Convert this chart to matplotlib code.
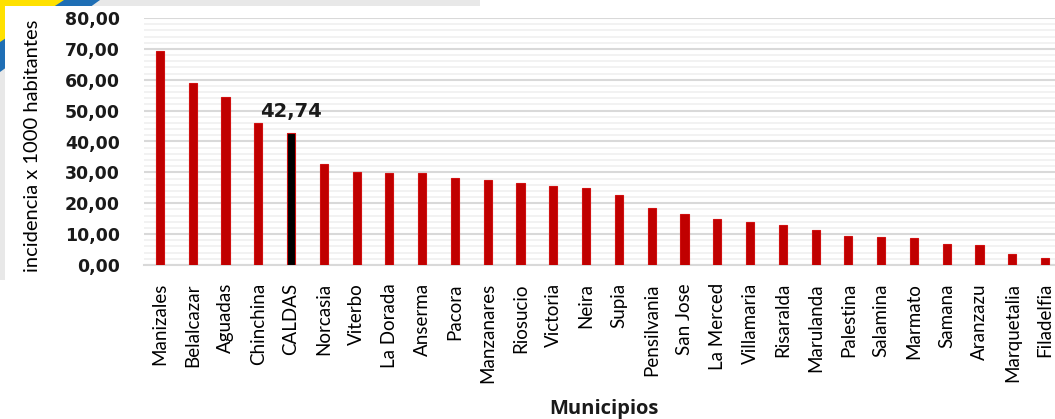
import matplotlib
matplotlib.use("Agg")
import matplotlib.pyplot as plt
from matplotlib.patches import Polygon, Rectangle
from matplotlib.ticker import MultipleLocator, FuncFormatter

# data
municipios = ["Manizales", "Belalcazar", "Aguadas", "Chinchina", "CALDAS", "Norcasia",
              "Viterbo", "La Dorada", "Anserma", "Pacora", "Manzanares", "Riosucio",
              "Victoria", "Neira", "Supia", "Pensilvania", "San Jose", "La Merced",
              "Villamaria", "Risaralda", "Marulanda", "Palestina", "Salamina", "Marmato",
              "Samana", "Aranzazu", "Marquetalia", "Filadelfia"]
incidencia = [69.3, 58.9, 54.4, 45.9, 42.74, 32.7, 30.1, 29.8, 29.8, 28.2, 27.5, 26.5,
              25.6, 24.9, 22.7, 18.4, 16.5, 14.8, 13.8, 12.8, 11.2, 9.3, 9.0, 8.9,
              6.7, 6.4, 3.5, 2.2]
destacado = "CALDAS"

fig = plt.figure(figsize=(10.55, 4.19), dpi=100)
fig.patch.set_facecolor("white")

# background decoration: grey frame and yellow/blue corner
W, H = 1055, 419
def px(x, y):
    return (x / W, 1 - y / H)

deco = [
    Rectangle(px(0, 6), 480 / W, 6 / H, facecolor="#e8e8e8"),
    Rectangle(px(0, 280), 5 / W, 280 / H, facecolor="#e8e8e8"),
    Polygon([px(0, 0), px(100, 0), px(0, 72)], closed=True, facecolor="#1f6fb5"),
    Polygon([px(0, 0), px(64, 0), px(0, 42)], closed=True, facecolor="#ffe100"),
    Rectangle(px(5, 419), 1 - 5 / W, (419 - 6) / H, facecolor="white"),
]
for p in deco:
    p.set_transform(fig.transFigure)
    p.set_edgecolor("none")
    p.set_zorder(-5)
    fig.patches.append(p)

ax = fig.add_axes([143.5 / W, 1 - 265 / H, 918 / W, 247 / H])
ax.set_facecolor("none")

x = list(range(len(municipios)))
colores = ["black" if m == destacado else "#c00000" for m in municipios]
ax.bar(x, incidencia, width=0.25, color=colores, edgecolor="#d01010", linewidth=0.8,
       zorder=3)

i = municipios.index(destacado)
ax.annotate("42,74", (i, incidencia[i]), xytext=(0, 9), textcoords="offset points",
            ha="center", va="bottom", fontsize=14, fontweight="bold",
            family="DejaVu Sans", color="#1a1a1a")

ax.set_xlim(-0.5, len(municipios) - 0.5)
ax.set_ylim(0, 80)
ax.yaxis.set_major_locator(MultipleLocator(10))
ax.yaxis.set_minor_locator(MultipleLocator(2))
ax.yaxis.set_major_formatter(FuncFormatter(lambda v, p: f"{v:.2f}".replace(".", ",")))
ax.grid(axis="y", which="major", color="#d9d9d9", linewidth=1.5, zorder=0)
ax.grid(axis="y", which="minor", color="#f0f0f0", linewidth=1.2, zorder=0)

for s in ["top", "right", "left"]:
    ax.spines[s].set_visible(False)
ax.spines["bottom"].set_color("#d9d9d9")
ax.spines["bottom"].set_linewidth(1.5)

ax.tick_params(axis="both", which="both", length=0)
ax.tick_params(axis="y", pad=17)
ax.tick_params(axis="x", pad=13)
for t in ax.get_yticklabels():
    t.set_fontsize(12.5)
    t.set_fontweight("bold")
    t.set_color("#1a1a1a")

ax.set_xticks(x)
ax.set_xticklabels(municipios, rotation=90, fontsize=13.5, family="Lato", color="black")

fig.text(33 / W, 1 - 146 / H, "incidencia x 1000 habitantes", rotation=90,
         ha="center", va="center", fontsize=14.5, family="Lato", color="black")
fig.text(604 / W, 1 - 409 / H, "Municipios", ha="center", va="center",
         fontsize=14.5, fontweight="bold", family="Open Sans", color="#1a1a1a")

fig.savefig("out.png", dpi=100)
